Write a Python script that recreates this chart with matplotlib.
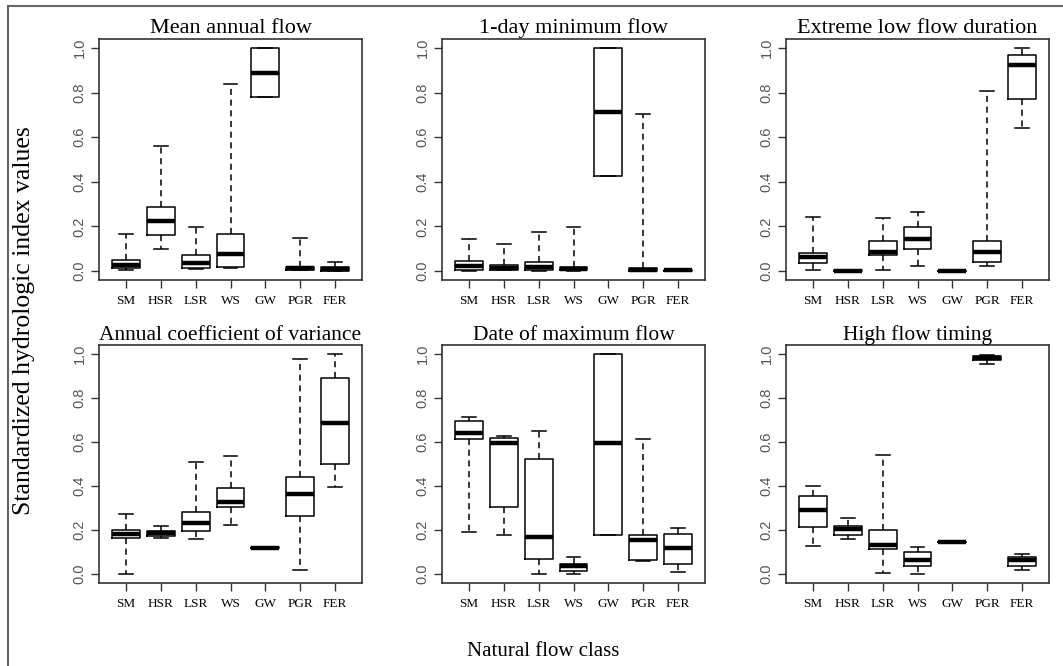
import numpy as np
import matplotlib
matplotlib.use("Agg")
import matplotlib.pyplot as plt
from matplotlib.lines import Line2D

CLASSES = ["SM", "HSR", "LSR", "WS", "GW", "PGR", "FER"]

# per class: [lower whisker, Q1, median, Q3, upper whisker]
MEAN_ANNUAL = [[0.005, 0.012, 0.025, 0.050, 0.165],
               [0.100, 0.160, 0.226, 0.285, 0.560],
               [0.008, 0.015, 0.037, 0.070, 0.199],
               [0.015, 0.019, 0.076, 0.164, 0.837],
               [0.779, 0.779, 0.889, 1.000, 1.000],
               [0.003, 0.007, 0.015, 0.019, 0.146],
               [0.000, 0.000, 0.008, 0.020, 0.039]]
ONE_DAY_MIN = [[0.002, 0.007, 0.024, 0.046, 0.142],
               [0.003, 0.004, 0.015, 0.027, 0.121],
               [0.002, 0.004, 0.019, 0.039, 0.173],
               [0.002, 0.004, 0.010, 0.019, 0.199],
               [0.426, 0.426, 0.714, 1.000, 1.000],
               [0.000, 0.000, 0.007, 0.015, 0.704],
               [0.000, 0.001, 0.003, 0.005, 0.006]]
EXTREME_LOW = [[0.004, 0.034, 0.061, 0.082, 0.241],
               [0.000, 0.000, 0.000, 0.003, 0.003],
               [0.004, 0.070, 0.085, 0.136, 0.236],
               [0.022, 0.097, 0.145, 0.196, 0.263],
               [0.000, 0.000, 0.000, 0.002, 0.002],
               [0.022, 0.039, 0.087, 0.136, 0.807],
               [0.640, 0.771, 0.924, 0.969, 0.998]]
ANNUAL_CV = [[0.000, 0.164, 0.182, 0.200, 0.273],
             [0.165, 0.174, 0.186, 0.197, 0.220],
             [0.159, 0.197, 0.232, 0.280, 0.508],
             [0.223, 0.303, 0.329, 0.389, 0.538],
             [0.118, 0.119, 0.121, 0.124, 0.125],
             [0.020, 0.265, 0.364, 0.439, 0.977],
             [0.394, 0.500, 0.686, 0.889, 0.997]]
DATE_MAX = [[0.192, 0.614, 0.641, 0.697, 0.712],
            [0.177, 0.303, 0.595, 0.618, 0.626],
            [0.000, 0.071, 0.171, 0.523, 0.648],
            [0.000, 0.015, 0.038, 0.048, 0.076],
            [0.179, 0.179, 0.595, 1.000, 1.000],
            [0.061, 0.065, 0.156, 0.177, 0.614],
            [0.012, 0.044, 0.121, 0.182, 0.208]]
HIGH_TIMING = [[0.126, 0.215, 0.291, 0.356, 0.402],
               [0.159, 0.179, 0.205, 0.220, 0.253],
               [0.005, 0.114, 0.132, 0.200, 0.542],
               [0.000, 0.038, 0.065, 0.102, 0.124],
               [0.143, 0.144, 0.145, 0.147, 0.148],
               [0.955, 0.974, 0.983, 0.989, 0.995],
               [0.020, 0.038, 0.064, 0.080, 0.091]]

PANELS = [("Mean annual flow", MEAN_ANNUAL),
          ("1-day minimum flow", ONE_DAY_MIN),
          ("Extreme low flow duration", EXTREME_LOW),
          ("Annual coefficient of variance", ANNUAL_CV),
          ("Date of maximum flow", DATE_MAX),
          ("High flow timing", HIGH_TIMING)]

W, H = 1063, 666
fig = plt.figure(figsize=(W / 100, H / 100), dpi=100)

lefts = [99, 442, 786]
rows = [(39, 280), (345, 583)]
axw = 263

for i, (title, rows_data) in enumerate(PANELS):
    top, bot = rows[i // 3]
    left = lefts[i % 3]
    ax = fig.add_axes([left / W, 1 - bot / H, axw / W, (bot - top) / H])

    stats = [dict(whislo=r[0], q1=r[1], med=r[2], q3=r[3], whishi=r[4])
             for r in rows_data]
    ax.bxp(stats, positions=np.arange(1, 8), widths=0.8, capwidths=0.4,
           showfliers=False,
           boxprops=dict(color="black", linewidth=1.1),
           whiskerprops=dict(color="black", linewidth=1.1, linestyle=(0, (4, 3))),
           capprops=dict(color="black", linewidth=1.1),
           medianprops=dict(color="black", linewidth=3.2, solid_capstyle="butt"))

    ax.set_xlim(0.22, 7.78)
    ax.set_ylim(-0.04, 1.04)
    ax.set_xticks(np.arange(1, 8))
    ax.set_xticklabels(CLASSES, family="Liberation Serif", fontsize=9.5)
    ax.set_yticks([0, 0.2, 0.4, 0.6, 0.8, 1.0])
    ax.set_yticklabels(["0.0", "0.2", "0.4", "0.6", "0.8", "1.0"],
                       family="Liberation Sans", fontsize=10.5, color="#555555",
                       rotation=90, va="center")
    ax.tick_params(direction="out", length=6, width=1, color="#333333")
    ax.tick_params(axis="y", pad=3)
    ax.tick_params(axis="x", pad=5)
    for s in ax.spines.values():
        s.set_color("#333333")
        s.set_linewidth(1.2)
    ax.set_title(title, family="Liberation Serif", fontsize=16 if i < 3 else 15.5,
                 pad=4 if i < 3 else 3)

fig.text(24 / W, 1 - 321 / H, "Standardized hydrologic index values",
         family="Liberation Serif", fontsize=18.5, rotation=90,
         ha="center", va="center")
fig.text(543 / W, 1 - 652 / H, "Natural flow class",
         family="Liberation Serif", fontsize=15, ha="center", va="center")

# outer frame (left and top edge visible in the original)
fig.add_artist(Line2D([8 / W, 8 / W], [0, 1 - 6 / H], transform=fig.transFigure,
                      color="#666666", linewidth=1.5))
fig.add_artist(Line2D([8 / W, 1], [1 - 6 / H, 1 - 6 / H], transform=fig.transFigure,
                      color="#666666", linewidth=1.5))

fig.savefig("out.png", dpi=100)
